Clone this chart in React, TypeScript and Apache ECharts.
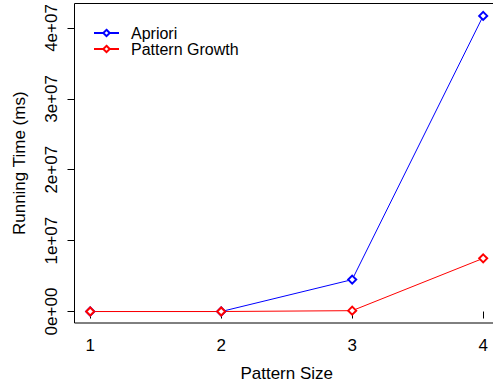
import React, { useEffect, useRef } from "react";
import * as echarts from "echarts";

const patternSizes = [1, 2, 3, 4];
const aprioriTimes = [0, 0, 4.5e6, 4.17e7];
const growthTimes = [0, 0, 1.2e5, 7.5e6];
const seriesNames = ["Apriori", "Pattern Growth"];
const yTickValues = [0, 1e7, 2e7, 3e7, 4e7];
const yTickLabels = ["0e+00", "1e+07", "2e+07", "3e+07", "4e+07"];
const xTickValues = [1, 2, 3, 4];
const xTickLabels = ["1", "2", "3", "4"];

const FONT = "'Liberation Sans', Arial, Helvetica, sans-serif";

export default function App() {
  const ref = useRef<HTMLDivElement>(null);
  useEffect(() => {
    if (!ref.current) return;
    const chart = echarts.init(ref.current, null, { renderer: "svg" });
    const mk = (a: number[]) => patternSizes.map((x, i) => [x, a[i]]);
    chart.setOption({
      animation: false,
      backgroundColor: "#ffffff",
      textStyle: { fontFamily: FONT },
      grid: {
        left: 74.5,
        top: 3.5,
        width: 424.4,
        height: 320,
        show: true,
        borderColor: "#000",
        borderWidth: 1,
        backgroundColor: "transparent",
        containLabel: false,
      },
      legend: {
        orient: "vertical",
        left: 93,
        top: 25,
        padding: 0,
        itemWidth: 25,
        itemHeight: 8,
        itemGap: 0,
        data: seriesNames,
        textStyle: {
          fontFamily: FONT,
          fontSize: 16,
          color: "#000",
          lineHeight: 16,
          padding: [0, 0, 0, 7],
        },
      },
      xAxis: {
        type: "value",
        min: 0.88,
        max: 4.12,
        name: "Pattern Size",
        nameLocation: "middle",
        nameGap: 42,
        nameTextStyle: { fontFamily: FONT, fontSize: 17, color: "#000" },
        axisLine: { show: false },
        splitLine: { show: false },
        axisTick: {
          show: true,
          length: 7,
          customValues: xTickValues,
          lineStyle: { color: "#000", width: 1 },
        },
        axisLabel: {
          customValues: xTickValues,
          formatter: (v: number) => xTickLabels[xTickValues.indexOf(v)] ?? "",
          fontFamily: FONT,
          fontSize: 17,
          color: "#000",
          margin: 14,
        },
      },
      yAxis: {
        type: "value",
        min: -1.62e6,
        max: 4.345e7,
        name: "Running Time (ms)",
        nameLocation: "middle",
        nameRotate: 90,
        nameGap: 47,
        nameTextStyle: { fontFamily: FONT, fontSize: 17, color: "#000" },
        axisLine: { show: false },
        splitLine: { show: false },
        axisTick: {
          show: true,
          length: 7,
          customValues: yTickValues,
          lineStyle: { color: "#000", width: 1 },
        },
        axisLabel: {
          customValues: yTickValues,
          formatter: (v: number) => yTickLabels[yTickValues.indexOf(v)] ?? "",
          rotate: 90,
          fontFamily: FONT,
          fontSize: 17,
          color: "#000",
          margin: 15,
        },
      },
      series: [
        {
          name: seriesNames[0],
          type: "line",
          data: mk(aprioriTimes),
          symbol: "emptyDiamond",
          symbolSize: 8,
          color: "#0000ff",
          lineStyle: { width: 1, color: "#0000ff" },
          itemStyle: { color: "#0000ff", borderWidth: 1 },
        },
        {
          name: seriesNames[1],
          type: "line",
          data: mk(growthTimes),
          symbol: "emptyDiamond",
          symbolSize: 8,
          color: "#ff0000",
          lineStyle: { width: 1, color: "#ff0000" },
          itemStyle: { color: "#ff0000", borderWidth: 1 },
        },
      ],
    });
    return () => chart.dispose();
  }, []);
  return (
    <div style={{ position: "absolute", left: 0, top: 0, width: 493, height: 387, overflow: "hidden", background: "#fff" }}>
      <div ref={ref} style={{ width: 520, height: 387 }} />
    </div>
  );
}
